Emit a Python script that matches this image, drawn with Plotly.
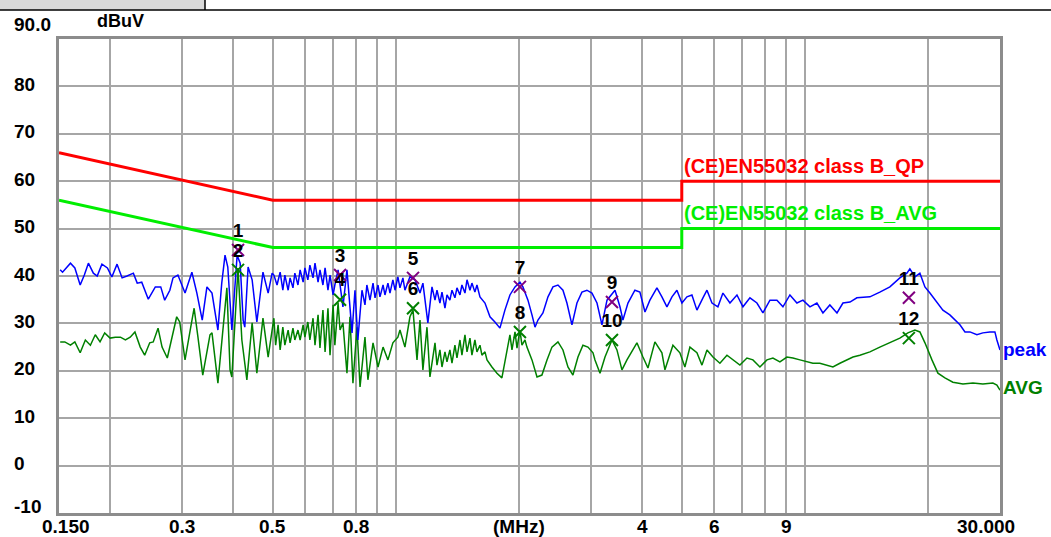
import numpy as np
import plotly.graph_objects as go

# ---------------- data (MHz, dBuV) ----------------
peak_freq = [0.151, 0.153, 0.160, 0.164, 0.169, 0.173, 0.177, 0.182, 0.186, 0.191,
             0.197, 0.202, 0.208, 0.214, 0.220, 0.228, 0.233, 0.239, 0.248, 0.258,
             0.266, 0.272, 0.280, 0.285, 0.293, 0.305, 0.317, 0.326, 0.336, 0.345,
             0.355, 0.367, 0.375, 0.382, 0.388, 0.397, 0.409, 0.416, 0.423, 0.427,
             0.435, 0.445, 0.457, 0.473, 0.487, 0.498,
             0.503, 0.512, 0.521, 0.529, 0.535, 0.545, 0.551, 0.560, 0.566, 0.576,
             0.583, 0.593, 0.599, 0.609, 0.616, 0.627, 0.634, 0.645, 0.652, 0.663,
             0.671, 0.682, 0.690, 0.702, 0.709, 0.722,
             0.742, 0.759, 0.781, 0.794, 0.807,
             0.826, 0.840, 0.849, 0.864, 0.879, 0.889, 0.904, 0.914, 0.930, 0.940,
             0.956, 0.967, 0.983, 0.995, 1.011, 1.023, 1.040, 1.052,
             1.082, 1.113, 1.145, 1.164, 1.197,
             1.225, 1.246, 1.260, 1.281, 1.296, 1.318, 1.333, 1.355, 1.371, 1.394,
             1.410, 1.434, 1.450, 1.475, 1.492, 1.517, 1.534, 1.560, 1.578, 1.605,
             1.651, 1.698, 1.746, 1.796, 1.847, 1.900, 1.955,
             2.010, 2.044, 2.103, 2.151, 2.188, 2.225, 2.288, 2.354, 2.421, 2.490,
             2.561, 2.619, 2.694, 2.771, 2.850, 2.931, 3.015, 3.102, 3.190, 3.282,
             3.433, 3.530, 3.590, 3.693, 3.840, 3.950, 4.064, 4.179, 4.347, 4.471,
             4.599, 4.731, 4.865, 5.004, 5.147, 5.294, 5.445, 5.633, 5.762, 5.927,
             6.128, 6.304, 6.558, 6.822, 7.056, 7.339, 7.634, 7.896, 8.214, 8.544,
             8.838, 9.192, 9.562, 9.891, 10.29, 10.70, 11.07, 11.51, 11.98, 12.39,
             12.89, 13.40, 14.18, 14.42, 15.25, 16.14, 17.07, 17.76, 18.06, 18.58,
             19.11, 19.66, 20.22, 21.03, 21.75, 22.62, 23.27, 23.94, 24.63, 25.33,
             26.34, 27.24, 28.34, 29.15, 29.48, 30.0]
peak_level = [41.3, 40.8, 42.7, 41.7, 38.1, 40.2, 42.7, 40.6, 40.0, 42.5,
              41.7, 39.8, 42.5, 39.6, 40.0, 40.6, 38.5, 38.7, 35.1, 37.7,
              37.7, 34.9, 37.0, 39.6, 40.2, 36.4, 40.8, 36.4, 30.7, 37.7,
              36.4, 28.6, 38.5, 44.4, 41.9, 28.6, 44.4, 42.7, 30.7, 29.2,
              41.9, 39.2, 30.3, 40.8, 36.4, 40.6,
              40.2, 38.1, 40.8, 37.0, 40.2, 37.0, 39.6, 37.5, 40.6, 38.1,
              41.3, 38.7, 41.7, 39.2, 42.3, 39.6, 42.7, 38.7, 41.3, 38.1,
              41.7, 37.0, 40.2, 36.0, 38.1, 41.3,
              33.5, 41.3, 28.0, 37.0, 26.5,
              37.0, 33.9, 38.1, 34.9, 38.5, 35.4, 38.1, 35.6, 38.1, 36.0,
              38.5, 36.4, 39.2, 37.0, 39.8, 37.5, 39.6, 37.0,
              39.8, 39.2, 36.4, 38.5, 30.1,
              37.7, 34.9, 37.0, 34.3, 36.6, 33.2, 36.0, 34.9, 37.0, 35.4,
              37.5, 36.0, 38.1, 36.4, 39.2, 37.0, 38.5, 36.6, 38.1, 35.6,
              34.3, 31.4, 30.3, 29.0, 32.8, 36.0, 37.7,
              38.7, 37.7, 34.9, 31.8, 29.2, 30.7, 32.2, 35.6, 37.7, 38.1,
              37.0, 34.3, 29.7, 34.3, 36.6, 37.0, 36.4, 34.3, 29.7, 34.9,
              37.0, 33.5, 30.7, 34.3, 37.0, 36.6, 32.4, 34.9, 37.5, 35.6,
              33.5, 35.6, 37.0, 34.3, 35.6, 36.0, 32.8, 35.4, 37.0, 34.3,
              33.5, 36.4, 34.3, 36.0, 33.5, 35.4, 34.3, 32.2, 34.9, 34.9,
              33.5, 36.0, 34.3, 34.9, 33.5, 34.3, 32.2, 33.9, 32.2, 34.3,
              34.5, 35.4, 35.6, 35.6, 36.6, 37.7, 39.6, 40.6, 41.5, 39.8,
              40.6, 37.7, 36.4, 34.5, 32.8, 31.8, 30.7, 29.7, 28.2, 28.2,
              27.6, 28.0, 28.2, 28.2, 26.5, 24.4]

avg_freq = [0.151, 0.155, 0.160, 0.164, 0.169, 0.174, 0.179, 0.184, 0.189, 0.194,
            0.200, 0.206, 0.212, 0.218, 0.224, 0.230, 0.237, 0.243, 0.250, 0.255,
            0.262, 0.268, 0.276, 0.283, 0.291, 0.296, 0.305, 0.314, 0.321, 0.328,
            0.337, 0.351, 0.355, 0.367, 0.378, 0.386, 0.393, 0.397, 0.411, 0.420,
            0.432, 0.445, 0.457, 0.473, 0.487,
            0.503, 0.508, 0.515, 0.521, 0.529, 0.535, 0.545, 0.551, 0.560, 0.566,
            0.576, 0.583, 0.593, 0.599, 0.609, 0.616, 0.627, 0.634, 0.645, 0.652,
            0.663, 0.671, 0.682, 0.690, 0.702, 0.709, 0.722, 0.730, 0.742,
            0.759, 0.772, 0.785, 0.803, 0.817, 0.840, 0.854, 0.879, 0.904, 0.930,
            0.956, 0.983, 1.011, 1.023, 1.052, 1.082, 1.101, 1.126, 1.145, 1.164,
            1.191, 1.211,
            1.246, 1.260, 1.281, 1.296, 1.318, 1.333, 1.355, 1.371, 1.394, 1.410,
            1.434, 1.450, 1.475, 1.492, 1.517, 1.534, 1.560, 1.578, 1.605, 1.623,
            1.651, 1.670,
            1.717, 1.766, 1.816,
            1.868, 1.900, 1.922, 1.955, 1.977, 2.010, 2.033, 2.068, 2.091,
            2.151, 2.213, 2.275, 2.341, 2.407, 2.490, 2.561, 2.634, 2.709,
            2.787, 2.866, 2.948, 3.033, 3.067, 3.155, 3.245, 3.375, 3.471, 3.570,
            3.672, 3.884, 4.018, 4.133, 4.298, 4.471, 4.548, 4.757, 4.947, 5.089,
            5.235, 5.445, 5.602, 5.762, 5.959, 6.198, 6.448, 6.669, 6.936, 7.217,
            7.464, 7.764, 8.076, 8.354, 8.689, 9.039, 9.349, 9.725, 10.12, 10.46,
            10.88, 11.32, 11.71, 12.18, 12.67, 13.11, 13.63, 14.42, 15.25, 16.14,
            17.07, 17.86, 18.58, 19.11, 19.66, 20.45, 21.15, 22.00, 23.01, 24.35,
            25.76, 27.24, 28.82, 29.48, 30.0]
avg_level = [26.1, 26.1, 25.4, 26.1, 23.8, 26.5, 25.4, 27.6, 26.1, 28.0,
             26.9, 27.1, 27.1, 26.5, 27.1, 28.2, 25.0, 23.3, 25.9, 26.1,
             29.0, 25.0, 22.7, 26.5, 31.4, 30.3, 22.3, 28.6, 33.2, 27.1,
             19.1, 27.6, 28.0, 17.4, 29.2, 37.5, 20.2, 18.7, 41.7, 26.5,
             18.1, 30.1, 19.5, 31.1, 22.9,
             31.1, 25.4, 29.7, 24.4, 29.2, 25.4, 28.6, 25.9, 29.0, 26.5,
             28.6, 26.5, 29.7, 27.1, 30.3, 26.5, 31.1, 25.4, 31.8, 24.8,
             32.8, 24.0, 33.2, 23.3, 33.9, 25.4, 34.3, 28.6, 30.1,
             19.5, 31.4, 17.4, 29.2, 16.6, 27.1, 18.1, 25.9, 20.8, 25.0,
             22.3, 25.9, 27.1, 28.6, 25.0, 31.4, 32.8, 22.3, 30.7, 20.2,
             29.2, 18.7,
             25.9, 21.2, 24.4, 20.8, 24.0, 21.9, 24.4, 21.6, 25.4, 22.7,
             26.5, 23.3, 27.6, 24.0, 26.9, 23.3, 26.5, 24.0, 25.4, 23.3,
             24.0, 22.3,
             20.8, 19.5, 18.5,
             23.8, 27.6, 24.4, 28.2, 24.8, 28.6, 25.4, 26.5, 25.0,
             22.3, 18.7, 19.1, 22.3, 25.0, 26.1, 24.4, 20.8, 19.1,
             22.9, 25.4, 25.0, 23.8, 22.3, 19.5, 22.9, 26.5, 24.4, 20.2,
             22.3, 25.9, 22.9, 20.6, 26.1, 23.8, 20.2, 25.4, 23.8, 20.8,
             25.0, 23.8, 21.2, 24.4, 22.9, 21.6, 23.3, 22.3, 21.2, 22.7,
             22.3, 20.8, 22.3, 22.7, 21.9, 22.9, 22.7, 22.3, 21.9, 21.6,
             21.6, 21.2, 20.8, 21.6, 22.3, 22.9, 23.3, 24.0, 25.0, 25.9,
             26.9, 28.0, 28.6, 28.2, 25.9, 22.3, 19.5, 18.5, 17.6, 17.2,
             17.4, 17.2, 17.4, 17.0, 15.9]

qp_limit_freq = [0.15, 0.5, 5.0, 5.0, 30.0]
qp_limit_level = [66, 56, 56, 60, 60]
avg_limit_freq = [0.15, 0.5, 5.0, 5.0, 30.0]
avg_limit_level = [56, 46, 46, 50, 50]

peak_mark_no = ["1", "3", "5", "7", "9", "11"]
peak_mark_freq = [0.411, 0.730, 1.101, 2.010, 3.375, 17.96]
peak_mark_level = [45.5, 40.2, 39.6, 37.7, 34.5, 35.4]
avg_mark_no = ["2", "4", "6", "8", "10", "12"]
avg_mark_freq = [0.411, 0.730, 1.101, 2.010, 3.375, 17.96]
avg_mark_level = [41.3, 35.0, 33.2, 28.2, 26.5, 26.9]

grid_freqs = [0.2, 0.3, 0.4, 0.5, 0.6, 0.7, 0.8, 0.9, 1, 2, 3, 4, 5, 6, 7, 8, 9, 10, 20]
x_label_freqs = [0.15, 0.3, 0.5, 0.8, 2, 4, 6, 9, 30]
x_label_text = ["0.150", "0.3", "0.5", "0.8", "(MHz)", "4", "6", "9", "30.000"]
y_label_vals = [90, 80, 70, 60, 50, 40, 30, 20, 10, 0, -10]
y_label_text = ["90.0", "80", "70", "60", "50", "40", "30", "20", "10", "0", "-10"]

assert len(peak_freq) == len(peak_level)
assert len(avg_freq) == len(avg_level)

# ---------------- figure ----------------
FONT = "Liberation Sans"
W, H = 1051, 537
ML, MR, MT, MB = 59, 51, 39, 24
PW, PH = W - ML - MR, H - MT - MB

fig = go.Figure()
fig.add_trace(go.Scatter(x=qp_limit_freq, y=qp_limit_level, mode="lines",
                         line=dict(color="#ff0000", width=3), hoverinfo="skip"))
fig.add_trace(go.Scatter(x=avg_limit_freq, y=avg_limit_level, mode="lines",
                         line=dict(color="#00ee00", width=3), hoverinfo="skip"))
fig.add_trace(go.Scatter(x=avg_freq, y=avg_level, mode="lines",
                         line=dict(color="#008000", width=1.5)))
fig.add_trace(go.Scatter(x=peak_freq, y=peak_level, mode="lines",
                         line=dict(color="#0000ff", width=1.5)))
mk_font = dict(family=FONT, size=19, color="#000000", weight="bold")
fig.add_trace(go.Scatter(x=peak_mark_freq, y=peak_mark_level, mode="markers+text",
                         marker=dict(symbol="x-thin", size=12, line=dict(color="#800080", width=2)),
                         text=peak_mark_no, textposition="top center", textfont=mk_font))
fig.add_trace(go.Scatter(x=avg_mark_freq, y=avg_mark_level, mode="markers+text",
                         marker=dict(symbol="x-thin", size=12, line=dict(color="#008000", width=2)),
                         text=avg_mark_no, textposition="top center", textfont=mk_font))

ann = []
lab_font = dict(family=FONT, size=19, color="#000000", weight="bold")
for f, t in zip(x_label_freqs, x_label_text):
    shift = 0
    if t == x_label_text[0]:
        shift = 7
    elif t == x_label_text[-1]:
        shift = -14
    ann.append(dict(x=np.log10(f), xref="x", y=0, yref="paper", yanchor="top",
                    xanchor="center", yshift=-1, xshift=shift, text=t, showarrow=False,
                    font=lab_font))
for v, t in zip(y_label_vals, y_label_text):
    ys = 2
    if t == y_label_text[0]:
        ys = 15
    elif t == y_label_text[-1]:
        ys = 7
    ann.append(dict(x=(12 - ML) / PW, xref="paper", y=v, yref="y", xanchor="left",
                    yanchor="middle", yshift=ys, text=t, showarrow=False, font=lab_font))
ann.append(dict(x=(95 - ML) / PW, xref="paper", y=90, yref="y", xanchor="left",
                yanchor="middle", yshift=18, text="dBuV", showarrow=False,
                font=dict(family=FONT, size=18, color="#000000", weight="bold")))
ann.append(dict(x=np.log10(qp_limit_freq[2]), xref="x", y=63.2, yref="y", xanchor="left",
                yanchor="middle", xshift=0, text="(CE)EN55032 class B_QP", showarrow=False,
                font=dict(family=FONT, size=20, color="#ff0000", weight="bold")))
ann.append(dict(x=np.log10(avg_limit_freq[2]), xref="x", y=53.3, yref="y", xanchor="left",
                yanchor="middle", xshift=0, text="(CE)EN55032 class B_AVG", showarrow=False,
                font=dict(family=FONT, size=20, color="#00ee00", weight="bold")))
ann.append(dict(x=1, xref="paper", y=peak_level[-1], yref="y", xanchor="left",
                yanchor="middle", xshift=1, text="peak", showarrow=False,
                font=dict(family=FONT, size=19, color="#0000ff", weight="bold")))
ann.append(dict(x=1, xref="paper", y=avg_level[-1] + 0.5, yref="y", xanchor="left",
                yanchor="middle", xshift=1, text="AVG", showarrow=False,
                font=dict(family=FONT, size=19, color="#008000", weight="bold")))

shapes = [
    dict(type="rect", xref="paper", yref="paper", x0=-ML / PW, x1=(205 - ML) / PW,
         y0=(H - MB - 10) / PH, y1=(H - MB) / PH, fillcolor="#d9d9d9", line=dict(width=0),
         layer="above"),
    dict(type="line", xref="paper", yref="paper", x0=-ML / PW, x1=(W - ML) / PW,
         y0=(H - MB - 10) / PH, y1=(H - MB - 10) / PH, line=dict(color="#000000", width=1.5)),
    dict(type="line", xref="paper", yref="paper", x0=(205 - ML) / PW, x1=(205 - ML) / PW,
         y0=(H - MB - 10) / PH, y1=(H - MB) / PH, line=dict(color="#000000", width=1.5)),
]

fig.update_layout(
    width=W, height=H, margin=dict(l=ML, r=MR, t=MT, b=MB, autoexpand=False),
    paper_bgcolor="#ffffff", plot_bgcolor="#ffffff", showlegend=False,
    font=dict(family=FONT, size=18, color="#000000"),
    annotations=ann, shapes=shapes,
    xaxis=dict(type="log", range=[np.log10(0.15), np.log10(30)], tickvals=grid_freqs,
               showticklabels=False, ticks="", showgrid=True, gridcolor="#a6a6a6",
               gridwidth=1.5, zeroline=False, showline=True, linecolor="#8c8c8c",
               linewidth=3, mirror=True, fixedrange=True),
    yaxis=dict(range=[-10, 90], tickvals=y_label_vals, showticklabels=False, ticks="",
               showgrid=True, gridcolor="#a6a6a6", gridwidth=1.5, zeroline=False,
               showline=True, linecolor="#8c8c8c", linewidth=3, mirror=True,
               fixedrange=True),
)

fig.write_html("out.html", config={"displayModeBar": False},
               post_script="document.body.style.margin='0';document.body.style.padding='0';")
